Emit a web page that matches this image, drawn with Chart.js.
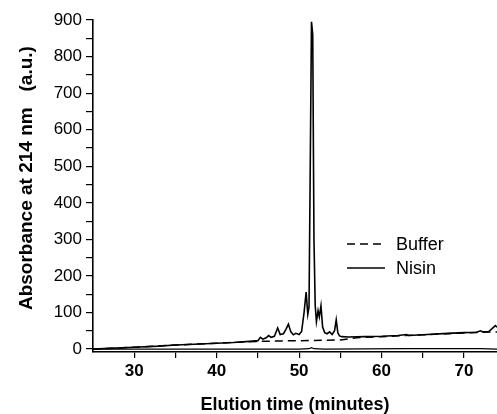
<!DOCTYPE html>
<html lang="en">
<head>
  <meta charset="UTF-8">
  <title>Elution profile</title>
  <style>
    body { margin: 0; background: #fff; }
    #chart { display: block; }
  </style>
</head>
<body>
  <canvas id="chart" width="497" height="414"></canvas>

  <script src="https://cdn.jsdelivr.net/npm/chart.js"></script>
  <script>
    // Nisin trace (elution time in minutes, absorbance a.u.)
    const nisinTime = [25, 27, 30, 33, 35, 38, 40, 42, 44, 45, 45.3, 45.6, 46, 46.3, 46.6, 47, 47.4, 47.7,
      48.1, 48.4, 48.7, 49.0, 49.3, 49.6, 50.0, 50.3, 50.6, 50.85, 51.05, 51.2, 51.35, 51.5, 51.65, 51.8,
      51.95, 52.1, 52.3, 52.45, 52.65, 52.85, 53.1, 53.4, 53.7, 54.0, 54.3, 54.5, 54.7, 54.9, 55.2, 56, 58,
      60, 62, 63, 63.3, 65, 68, 70, 71.5, 72, 72.3, 73, 73.5, 73.8, 74];
    const nisinAbs = [0, 2, 5, 8, 11, 14, 16, 18, 21, 23, 32, 27, 31, 37, 32, 35, 58, 40,
      42, 54, 68, 47, 39, 43, 40, 48, 100, 156, 95, 115, 500, 895, 860, 300,
      120, 75, 105, 88, 118, 60, 45, 42, 47, 40, 50, 80, 44, 36, 34, 33, 34,
      35, 37, 40, 37, 39, 43, 45, 46, 50, 47, 48, 58, 64, 60];

    // Buffer trace
    const bufferTime = [25, 30, 35, 40, 45, 50, 55, 57, 60, 65, 70, 74];
    const bufferAbs = [0, 5, 11, 16, 21, 23, 25, 31, 34, 39, 44, 47];

    // trace sitting on the zero line
    const zeroTime = [25, 50, 51.2, 51.5, 51.8, 53, 63, 72, 74];
    const zeroAbs = [0, 0, 1, 4, 1, 0, 1, 1, 0];

    const xTicks = [30, 35, 40, 45, 50, 55, 60, 65, 70];
    const yTicks = [0, 50, 100, 150, 200, 250, 300, 350, 400, 450, 500, 550, 600, 650, 700, 750, 800, 850, 900];

    const toPoints = (xs, ys) => xs.map((x, i) => ({ x: x, y: ys[i] }));
    const fontFamily = '"Liberation Sans", Arial, sans-serif';

    // legend drawn inside the plot, the way the original figure has it
    const insideLegend = {
      id: 'insideLegend',
      afterDraw(chart) {
        const ctx = chart.ctx;
        const rows = [{ ds: 0, y: 244 }, { ds: 1, y: 268 }];
        ctx.save();
        rows.forEach(r => {
          const ds = chart.data.datasets[r.ds];
          ctx.strokeStyle = '#000';
          ctx.lineWidth = 1.6;
          ctx.setLineDash(ds.borderDash || []);
          ctx.beginPath();
          ctx.moveTo(347, r.y);
          ctx.lineTo(385, r.y);
          ctx.stroke();
          ctx.setLineDash([]);
          ctx.fillStyle = '#000';
          ctx.font = '18px ' + fontFamily;
          ctx.textBaseline = 'middle';
          ctx.fillText(ds.label, 396, r.y + 1);
        });
        ctx.restore();
      }
    };

    new Chart(document.getElementById('chart'), {
      type: 'line',
      data: {
        datasets: [
          {
            label: 'Buffer',
            data: toPoints(bufferTime, bufferAbs),
            borderColor: '#000',
            borderWidth: 1.5,
            borderDash: [8, 5]
          },
          {
            label: 'Nisin',
            data: toPoints(nisinTime, nisinAbs),
            borderColor: '#000',
            borderWidth: 1.6
          },
          {
            label: 'zero',
            data: toPoints(zeroTime, zeroAbs),
            borderColor: '#000',
            borderWidth: 1.2
          }
        ]
      },
      options: {
        responsive: false,
        animation: false,
        elements: {
          point: { radius: 0 },
          line: { tension: 0, fill: false }
        },
        layout: { padding: { top: 20, left: 0, right: 0, bottom: 0 } },
        plugins: {
          legend: { display: false },
          tooltip: { enabled: false }
        },
        scales: {
          x: {
            type: 'linear',
            min: 25,
            max: 74,
            afterBuildTicks: s => { s.ticks = xTicks.map(v => ({ value: v })); },
            afterFit: s => { s.height = 62; },
            ticks: {
              autoSkip: false,
              maxRotation: 0,
              padding: 3,
              color: '#000',
              font: { family: fontFamily, size: 17, weight: 'bold' },
              callback: v => (v % 10 === 0 ? v : '')
            },
            grid: {
              drawOnChartArea: false,
              drawTicks: true,
              tickLength: 6,
              color: '#000',
              lineWidth: 1.2
            },
            border: { display: true, color: '#000', width: 1.6 },
            title: {
              display: true,
              text: 'Elution time (minutes)',
              color: '#000',
              font: { family: fontFamily, size: 18, weight: 'bold', lineHeight: 1 },
              padding: { top: 0, bottom: 0 }
            }
          },
          y: {
            type: 'linear',
            min: -8,
            max: 900,
            afterBuildTicks: s => { s.ticks = yTicks.map(v => ({ value: v })); },
            afterFit: s => { s.width = 93; },
            ticks: {
              autoSkip: false,
              padding: 4,
              color: '#000',
              font: { family: fontFamily, size: 17 },
              callback: v => (v % 100 === 0 ? v : '')
            },
            grid: {
              drawOnChartArea: false,
              drawTicks: true,
              tickLength: 7,
              color: '#000',
              lineWidth: 1.2
            },
            border: { display: true, color: '#000', width: 1.6 },
            title: {
              display: true,
              // leading spaces nudge the rotated title upward a little
              text: '\u00a0\u00a0\u00a0Absorbance at 214 nm\u00a0\u00a0\u00a0(a.u.)',
              color: '#000',
              font: { family: fontFamily, size: 19, weight: 'bold', lineHeight: 1.2 },
              padding: { top: 15, bottom: 0 }
            }
          }
        }
      },
      plugins: [insideLegend]
    });
  </script>
</body>
</html>
